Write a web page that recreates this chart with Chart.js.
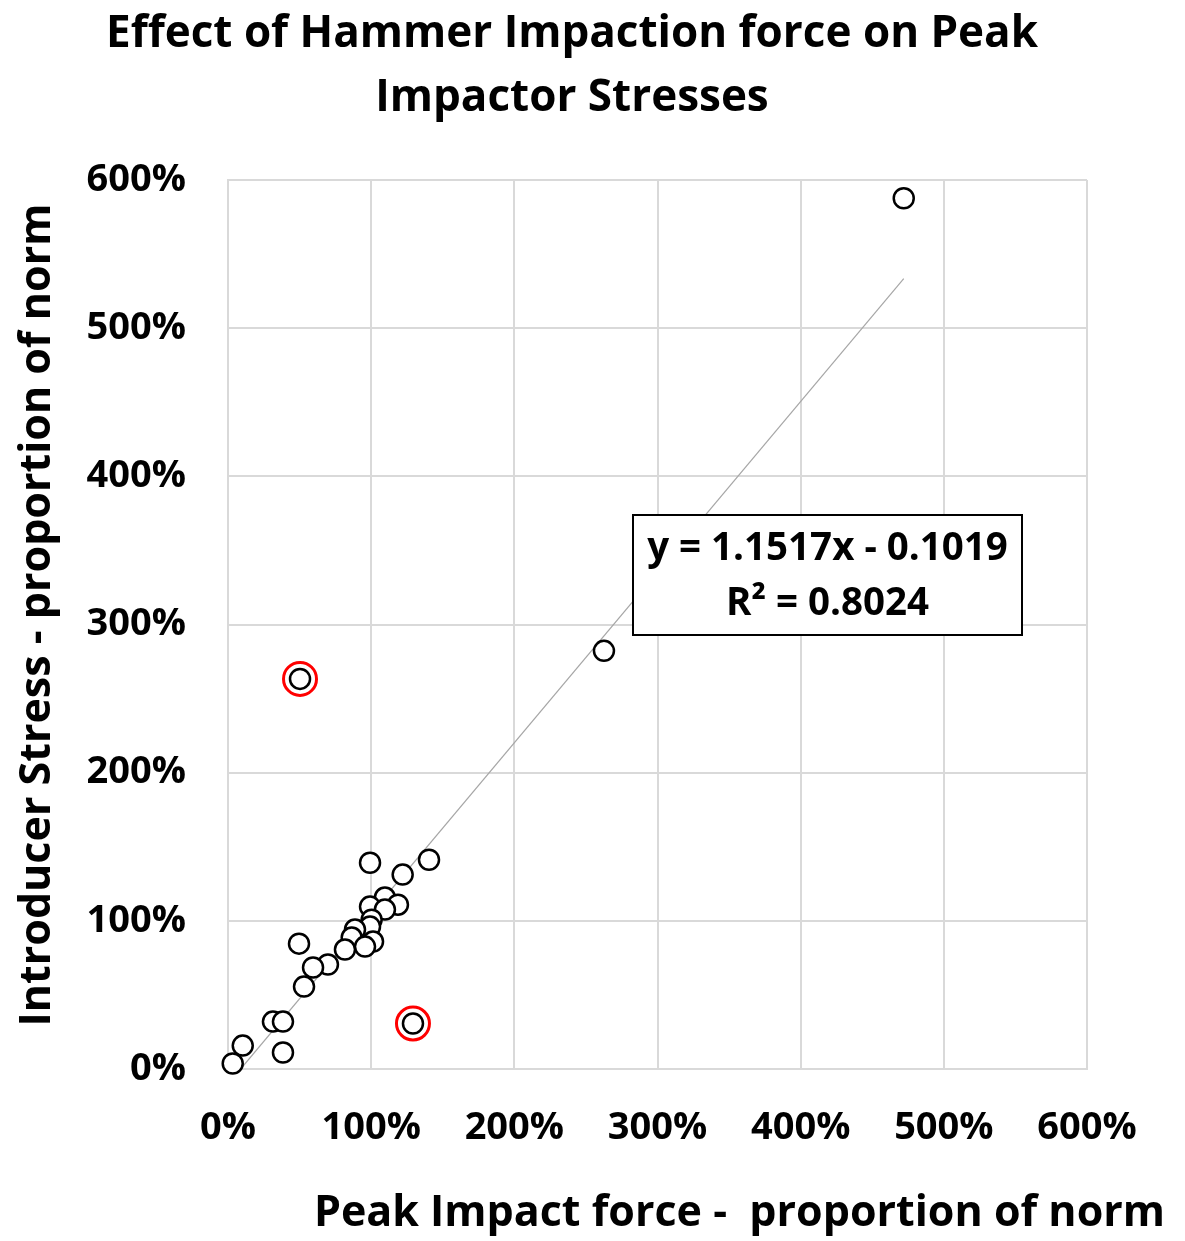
<!DOCTYPE html>
<html><head><meta charset="utf-8">
<script src="https://cdn.jsdelivr.net/npm/chart.js@4.4.0/dist/chart.umd.min.js"></script>
<style>html,body{margin:0;padding:0;background:#fff}#wrap{width:1185px;height:1241px}</style>
</head><body><div id="wrap"><canvas id="c" width="1185" height="1241"></canvas></div>
<script>
const titleLines = ["Effect of Hammer Impaction force on Peak", "Impactor Stresses"];
const xTitle = "Peak Impact force -  proportion of norm";
const yTitle = "Introducer Stress - proportion of norm";
const equationLines = ["y = 1.1517x - 0.1019", "R² = 0.8024"];
const tickValues = [0, 1, 2, 3, 4, 5, 6];
const slope = 1.1517, intercept = -0.1019;
const impactForce = [0.992,1.404,1.22,1.096,1.187,0.992,1.096,1.003,0.992,0.887,0.864,1.013,0.957,0.817,0.496,0.698,0.594,0.531,0.314,0.384,0.103,0.033,0.384,1.292,0.503,2.626,4.72];
const introducerStress = [1.392,1.412,1.312,1.157,1.109,1.096,1.076,1.008,0.961,0.941,0.887,0.86,0.826,0.806,0.846,0.705,0.685,0.556,0.32,0.32,0.158,0.037,0.111,0.307,2.633,2.822,5.877];
const flaggedX = [0.503, 1.292];
const flaggedY = [2.633, 0.307];
const trendX = [-intercept / slope, 4.72];

const FONT = "'Open Sans', sans-serif";
const pts = impactForce.map((x,i)=>({x, y: introducerStress[i]}));
const flagged = flaggedX.map((x,i)=>({x, y: flaggedY[i]}));
const trend = trendX.map(x=>({x, y: slope*x + intercept}));

const textPlugin = {
  id: 'texts',
  afterDraw(chart){
    const ctx = chart.ctx;
    ctx.save();
    ctx.fillStyle = '#000';
    ctx.textAlign = 'center'; ctx.textBaseline = 'middle';
    ctx.font = "bold 44px " + FONT;
    ctx.fillText(titleLines[0], 572, 34);
    ctx.fillText(titleLines[1], 572, 98);
    ctx.font = "bold 43px " + FONT;
    ctx.textAlign = 'right';
    ctx.fillText(xTitle, 1165, 1214);
    ctx.save();
    ctx.translate(38, 615); ctx.rotate(-Math.PI/2);
    ctx.textAlign = 'center';
    ctx.fillText(yTitle, 0, 0);
    ctx.restore();
    // equation box
    const bx = 633, by = 515, bw = 389, bh = 120;
    ctx.fillStyle = '#fff'; ctx.fillRect(bx, by, bw, bh);
    ctx.lineWidth = 2; ctx.strokeStyle = '#000'; ctx.strokeRect(bx, by, bw, bh);
    ctx.fillStyle = '#000'; ctx.textAlign = 'center';
    ctx.font = "bold 38.5px " + FONT;
    ctx.fillText(equationLines[0], bx + bw/2, 549);
    ctx.fillText(equationLines[1], bx + bw/2, 604);
    ctx.restore();
  }
};

new Chart(document.getElementById('c'), {
  type: 'scatter',
  data: { datasets: [
    { data: trend, type: 'line', showLine: true, borderColor: '#a6a6a6', borderWidth: 1.2, pointRadius: 0, order: 3 },
    { data: pts, clip: false, pointRadius: 10, pointBorderWidth: 2.5, pointBackgroundColor: '#fff', pointBorderColor: '#000', order: 1 },
    { data: flagged, clip: false, pointRadius: 16.5, pointBorderWidth: 3, pointBackgroundColor: '#fff', pointBorderColor: '#ff0000', order: 2 }
  ]},
  options: {
    responsive: false, animation: false, devicePixelRatio: 1,
    layout: { padding: { left: 0, right: 98, top: 180, bottom: 72 } },
    plugins: { legend: { display: false }, tooltip: { enabled: false } },
    scales: {
      x: { type: 'linear', min: 0, max: 6,
        afterBuildTicks: s => { s.ticks = tickValues.map(v=>({value:v})); },
        afterFit: s => { s.height = 100; },
        grid: { color: '#d9d9d9', lineWidth: 2, drawTicks: false },
        border: { color: '#d9d9d9', width: 2 },
        ticks: { padding: 36, maxRotation: 0, color: '#000', font: { family: FONT, size: 38, weight: 'bold' }, callback: v => Math.round(v*100) + '%' } },
      y: { type: 'linear', min: 0, max: 6,
        afterBuildTicks: s => { s.ticks = tickValues.map(v=>({value:v})); },
        afterFit: s => { s.width = 228; },
        grid: { color: '#d9d9d9', lineWidth: 2, drawTicks: false },
        border: { color: '#d9d9d9', width: 2 },
        ticks: { padding: 42, color: '#000', font: { family: FONT, size: 38, weight: 'bold' }, callback: v => Math.round(v*100) + '%' } }
    }
  },
  plugins: [textPlugin]
});
</script></body></html>
